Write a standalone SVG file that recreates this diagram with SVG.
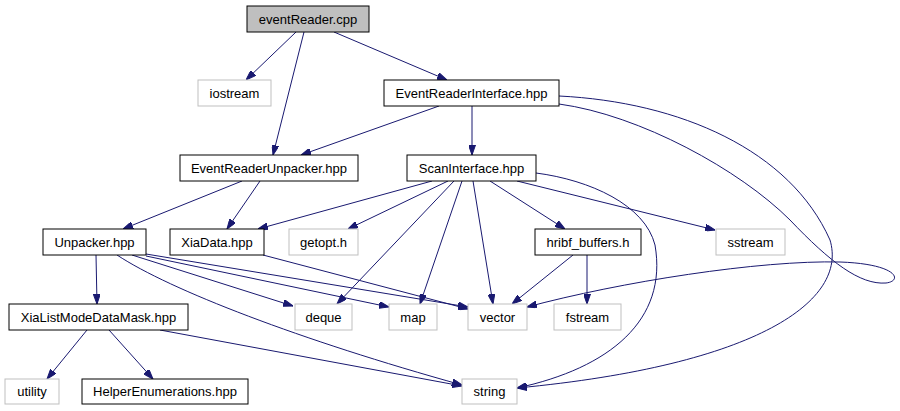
<svg xmlns="http://www.w3.org/2000/svg" width="900" height="411" viewBox="0 0 900 411">
<style>
.n rect{fill:#fff;stroke:#000;stroke-width:1}
.g rect{fill:#fff;stroke:#bfbfbf;stroke-width:1}
.root rect{fill:#bfbfbf;stroke:#000;stroke-width:1}
text{font-family:"Liberation Sans",Arial,sans-serif;font-size:13px;fill:#000;text-anchor:middle}
#edges path{fill:none;stroke:#191970;stroke-width:1;marker-end:url(#ah)}
</style>
<defs>
<marker id="ah" viewBox="0 0 10 7" refX="10" refY="3.5" markerWidth="10" markerHeight="7" markerUnits="userSpaceOnUse" orient="auto">
<path d="M0,0 L10,3.5 L0,7 z" fill="#191970" stroke="#191970" stroke-width="1"/>
</marker>
</defs>
<rect width="900" height="411" fill="#fff"/>
<g id="edges">
<path d="M296,32 L246,80"/>
<path d="M304,32 L273,155"/>
<path d="M334,32 L447,80"/>
<path d="M439,106 L301,155"/>
<path d="M472,106 L472,155"/>
<path d="M559,104 C640,115 740,170 790,220 C830,262 860,285 886,283 C903,281 898,264 840,262 C760,260 620,282 527,307"/>
<path d="M559,96 C680,102 790,150 830,240 C848,300 760,365 517,388"/>
<path d="M242,181 L123,229"/>
<path d="M260,181 L227,229"/>
<path d="M432,181 L258,229"/>
<path d="M448,181 L348,229"/>
<path d="M454,181 L337,304"/>
<path d="M462,181 L420,304"/>
<path d="M473,181 L493,304"/>
<path d="M490,181 L565,229"/>
<path d="M517,181 L715,230"/>
<path d="M536,173 C590,180 645,205 655,245 C668,320 610,368 517,388"/>
<path d="M96,255 L97,304"/>
<path d="M132,255 L293,306"/>
<path d="M146,256 L389,307"/>
<path d="M146,254 L468,307"/>
<path d="M117,255 C170,290 300,340 462,385"/>
<path d="M263,255 L468,309"/>
<path d="M573,255 L512,304"/>
<path d="M587,255 L587,304"/>
<path d="M87,330 L47,379"/>
<path d="M109,330 L153,379"/>
<path d="M160,330 L462,386"/>
</g>
<g id="eventReader_cpp" class="root"><rect x="247" y="6" width="122" height="26"/><text x="308" y="23.5">eventReader.cpp</text></g>
<g id="iostream" class="g"><rect x="198" y="80" width="73" height="26"/><text x="234.5" y="97.5">iostream</text></g>
<g id="EventReaderInterface_hpp" class="n"><rect x="384" y="80" width="175" height="26"/><text x="471.5" y="97.5">EventReaderInterface.hpp</text></g>
<g id="EventReaderUnpacker_hpp" class="n"><rect x="180" y="155" width="178" height="26"/><text x="269" y="172.5">EventReaderUnpacker.hpp</text></g>
<g id="ScanInterface_hpp" class="n"><rect x="407" y="155" width="129" height="26"/><text x="471.5" y="172.5">ScanInterface.hpp</text></g>
<g id="Unpacker_hpp" class="n"><rect x="43" y="229" width="103" height="26"/><text x="94.5" y="246.5">Unpacker.hpp</text></g>
<g id="XiaData_hpp" class="n"><rect x="170" y="229" width="94" height="26"/><text x="217" y="246.5">XiaData.hpp</text></g>
<g id="getopt_h" class="g"><rect x="289" y="229" width="69" height="26"/><text x="323.5" y="246.5">getopt.h</text></g>
<g id="hribf_buffers_h" class="n"><rect x="535" y="229" width="106" height="26"/><text x="588" y="246.5">hribf_buffers.h</text></g>
<g id="sstream" class="g"><rect x="716" y="229" width="69" height="26"/><text x="750.5" y="246.5">sstream</text></g>
<g id="XiaListModeDataMask_hpp" class="n"><rect x="9" y="304" width="179" height="26"/><text x="98.5" y="321.5">XiaListModeDataMask.hpp</text></g>
<g id="deque" class="g"><rect x="295" y="304" width="57" height="26"/><text x="323.5" y="321.5">deque</text></g>
<g id="map" class="g"><rect x="389" y="304" width="48" height="26"/><text x="413" y="321.5">map</text></g>
<g id="vector" class="g"><rect x="468" y="304" width="59" height="26"/><text x="497.5" y="321.5">vector</text></g>
<g id="fstream" class="g"><rect x="554" y="304" width="67" height="26"/><text x="587.5" y="321.5">fstream</text></g>
<g id="utility" class="g"><rect x="5" y="379" width="54" height="25"/><text x="32" y="396">utility</text></g>
<g id="HelperEnumerations_hpp" class="n"><rect x="82" y="379" width="166" height="25"/><text x="165" y="396">HelperEnumerations.hpp</text></g>
<g id="string" class="g"><rect x="462" y="379" width="55" height="25"/><text x="489.5" y="396">string</text></g>
</svg>
